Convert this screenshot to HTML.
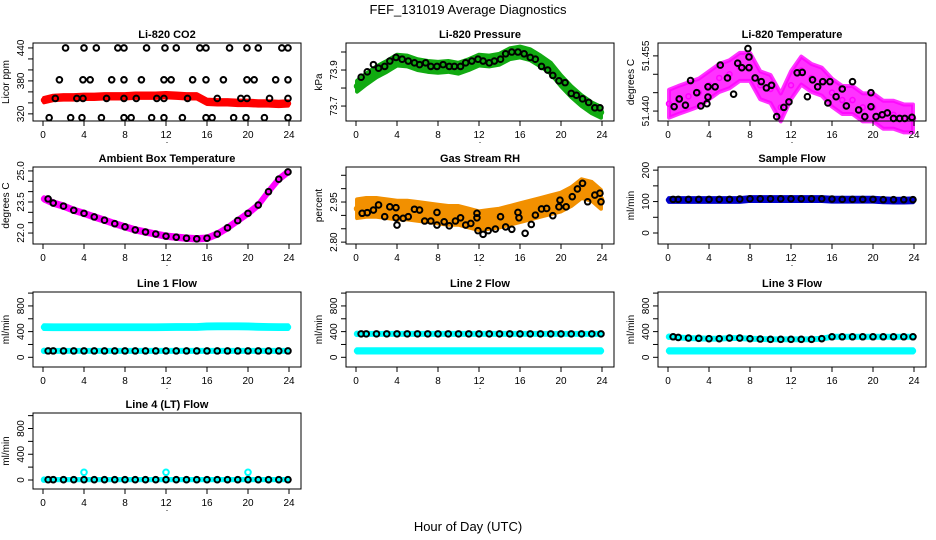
<!DOCTYPE html>
<html><head><meta charset="utf-8"><style>
body{margin:0;background:#fff}
svg{display:block;font-family:"Liberation Sans",sans-serif}
</style></head><body>
<svg id="chart" width="936" height="540" xmlns="http://www.w3.org/2000/svg">
<text x="468" y="14" text-anchor="middle" font-size="13">FEF_131019  Average Diagnostics</text>
<text x="468" y="531" text-anchor="middle" font-size="13">Hour of Day (UTC)</text>
</svg>
<script>
const xTicks=[0,4,8,12,16,20,24];
const hourly=[0,1,2,3,4,5,6,7,8,9,10,11,12,13,14,15,16,17,18,19,20,21,22,23,24];
// CO2
const co2Red=[345,349,350,350,351,351,352,352,352,353,353,353,354,353,352,352,342,341,341,340,340,339,339,338,339];
const co2BlackHours=[2.2,4,5.2,7.3,7.9,10.1,11.9,13,15.3,15.9,18.2,19.9,21,23.3,23.9,1.6,3.9,4.6,6.7,7.9,9.6,11.8,12.5,14.6,15.9,17.6,19.9,20.6,22.7,23.9,1.2,3.3,3.9,6.2,7.9,9.1,11.1,11.8,14.1,17,19.3,19.9,22.1,23.9,0.6,2.7,3.8,5.7,7.9,8.6,10.6,11.8,13.6,15.9,16.5,18.6,19.8,21.6,23.9];
const co2BlackVals=[440,440,440,440,440,440,440,440,440,440,440,440,440,440,440,382,382,382,382,382,382,382,382,382,382,382,382,382,382,382,348,348,348,348,348,348,348,348,348,348,348,348,348,348,313,313,313,313,313,313,313,313,313,313,313,313,313,313,313];
// Pressure
const presGreen=[73.81,73.85,73.89,73.92,73.955,73.95,73.93,73.92,73.915,73.92,73.91,73.93,73.955,73.95,73.96,73.99,74.0,73.985,73.95,73.91,73.84,73.78,73.73,73.69,73.665];
const presBlackHours=[0.5,1.1,1.7,2.2,2.8,3.3,3.9,4.5,5.1,5.7,6.2,6.8,7.3,7.9,8.5,9.1,9.6,10.2,10.7,11.3,11.9,12.4,13,13.5,14.1,14.6,15.2,15.8,16.4,17,17.5,18.1,18.7,19.2,19.8,20.4,21,21.5,22.1,22.7,23.3,23.8];
const presBlackVals=[73.86,73.89,73.93,73.91,73.92,73.95,73.97,73.96,73.95,73.94,73.93,73.94,73.92,73.92,73.93,73.92,73.92,73.92,73.94,73.95,73.96,73.95,73.94,73.95,73.96,73.99,74.0,74.0,73.99,73.97,73.96,73.92,73.9,73.87,73.84,73.83,73.77,73.76,73.74,73.72,73.69,73.69];
// Temperature
const tempMagenta=[51.442,51.443,51.444,51.445,51.447,51.449,51.450,51.452,51.452,51.447,51.446,51.441,51.447,51.451,51.449,51.448,51.445,51.443,51.443,51.441,51.441,51.439,51.439,51.438,51.438];
const tempBlackHours=[0.6,1.1,1.7,2.2,2.8,3.2,3.8,3.9,3.9,4.6,5.1,5.8,6.4,6.8,7.2,7.8,7.9,7.9,8.5,9.1,9.6,10.1,10.6,11.3,11.8,12.6,13.1,13.6,14.1,14.6,15.1,15.8,15.6,16.4,17,17.4,18,18.6,19.2,19.8,19.8,20.3,20.9,21.4,22,22.6,23.1,23.8];
const tempBlackVals=[51.4412,51.4433,51.4416,51.4483,51.445,51.4414,51.442,51.4438,51.4466,51.4466,51.4525,51.449,51.4446,51.453,51.4518,51.457,51.4547,51.4518,51.449,51.448,51.4463,51.447,51.4385,51.441,51.4425,51.4504,51.4505,51.4439,51.4485,51.4466,51.448,51.448,51.4422,51.4439,51.446,51.4414,51.448,51.4403,51.4385,51.445,51.4412,51.4385,51.439,51.4395,51.438,51.438,51.438,51.4383];
// Ambient
const ambMagenta=[23.65,23.45,23.3,23.1,22.95,22.78,22.62,22.45,22.3,22.15,22.05,21.95,21.85,21.8,21.75,21.72,21.75,21.95,22.25,22.6,22.95,23.35,24.0,24.6,24.95];
// RH
const rhOrange=[2.925,2.93,2.93,2.925,2.92,2.92,2.915,2.91,2.905,2.9,2.9,2.89,2.88,2.885,2.89,2.9,2.91,2.92,2.93,2.94,2.95,2.97,3.0,2.99,2.96];
const rhBlackHours=[0.6,1.1,1.7,2.2,2.8,3.3,3.9,3.9,4.0,4.6,5.1,5.7,6.2,6.7,7.3,7.9,7.9,8.6,9.1,9.7,10.2,10.7,11.2,11.8,11.8,11.9,12.4,12.9,13.6,14.1,14.6,15.2,15.8,15.9,16.5,17.1,17.5,18.1,18.6,19.2,19.8,19.9,20.5,21.1,21.6,22.1,22.6,23.3,23.8,23.9];
const rhBlackVals=[2.908,2.910,2.920,2.939,2.895,2.932,2.929,2.891,2.864,2.889,2.895,2.923,2.920,2.879,2.879,2.911,2.864,2.876,2.861,2.879,2.891,2.864,2.870,2.908,2.891,2.843,2.829,2.843,2.849,2.895,2.857,2.848,2.911,2.891,2.833,2.866,2.901,2.924,2.926,2.899,2.932,2.957,2.932,2.970,2.999,3.020,2.951,2.976,2.983,2.951];
// Flows
const sampleBlue=[105,105,105,105,105,105,105,105,108,108,108,108,108,108,108,108,106,106,106,106,106,104,103,103,104];
const sampleBlack=[107,107,107,107,107,107,107,108,109,109,109,109,109,109,109,109,108,107,107,107,107,106,106,106,106];
const line1Cyan=[470,468,468,468,468,468,468,468,468,468,468,468,470,472,472,472,480,482,482,482,480,475,472,470,470];
const line1Black=[100,100,100,100,100,100,100,100,100,100,100,100,100,100,100,100,100,100,100,100,100,100,100,100,100];
const line2CyanLow=[100,100,100,100,100,100,100,100,100,100,100,100,100,100,100,100,100,100,100,100,100,100,100,100,100];
const line2Black=[365,365,365,365,365,365,365,365,365,365,365,365,365,365,365,365,365,365,365,365,365,365,365,365,365];
const line3CyanLow=[100,100,100,100,100,100,100,100,100,100,100,100,100,100,100,100,100,100,100,100,100,100,100,100,100];
const line3Black=[320,310,300,295,290,290,300,300,290,285,280,280,280,280,280,290,320,320,320,320,320,320,320,320,320];
const line4Black=[5,5,5,5,5,5,5,5,5,5,5,5,5,5,5,5,5,5,5,5,5,5,5,5,5];
const line4OutHours=[4,12,20];
const line4OutVals=[120,120,120];

const svg=document.getElementById('chart');
const NS='http://www.w3.org/2000/svg';
function mk(tag,attrs,parent){const e=document.createElementNS(NS,tag);for(const k in attrs)e.setAttribute(k,attrs[k]);(parent||svg).appendChild(e);return e;}

const colX=[33,346,658], rowY=[[43,121],[167,244],[292,367],[413,489]];

function panel(o){
  const x0=colX[o.col],x1=x0+268,[y0,y1]=rowY[o.row];
  const g=mk('g',{});
  
  
  const sx=h=>x0+10+h*(x1-12-x0-10)/24;
  const sy=v=>y1-(v-o.ymin)*(y1-y0)/(o.ymax-o.ymin);
  const t=mk('text',{x:(x0+x1)/2,y:y0-5,'text-anchor':'middle','font-size':'11','font-weight':'bold'},g);
  t.textContent=o.title;
  
  
  const plot=mk('g',{},g);
  
  
  (o.bands||[]).forEach(b=>{
    let up=b.vals.map((v,i)=>sx(b.hours[i])+','+sy(v+b.w)).join(' ');
    let dn=b.vals.map((v,i)=>sx(b.hours[i])+','+sy(v-b.w)).reverse().join(' ');
    const p=mk('polygon',{points:up+' '+dn,fill:b.color,stroke:b.color,'stroke-width':'4','stroke-linejoin':'round','fill-opacity':b.op||1,'stroke-opacity':b.op||1},plot);
    
    
    b.vals.forEach((v,i)=>{
      const c=mk('circle',{cx:sx(b.hours[i]),cy:sy(v),r:2.5,fill:'none',stroke:b.color,'stroke-width':'1.5'},plot);
      
      
    });
  });
  (o.points||[]).forEach(s=>{
    s.vals.forEach((v,i)=>{
      const c=mk('circle',{cx:sx(s.hours[i]),cy:sy(v),r:2.8,fill:'none',stroke:s.color,'stroke-width':'2'},plot);
      
      
    });
  });
  const box=mk('rect',{x:x0,y:y0,width:x1-x0,height:y1-y0,fill:'none',stroke:'#000','stroke-width':'1'},g);
  
  
  const xa=mk('g',{},g);
  
  
  xTicks.forEach(h=>{
    mk('line',{x1:sx(h),x2:sx(h),y1:y1,y2:y1+5,stroke:'#000'},xa);
    const l=mk('text',{x:sx(h),y:y1+17,'text-anchor':'middle','font-size':'10'},xa);
    l.textContent=h;
    
    
  });
  const dot=mk('text',{x:(x0+x1)/2,y:y1+22,'text-anchor':'middle','font-size':'9'},xa);
  dot.textContent='.';
  const ya=mk('g',{},g);
  
  
  o.yticks.forEach(v=>{
    if(sy(v)<y0-1||sy(v)>y1+1)return;
    mk('line',{x1:x0,x2:x0-5,y1:sy(v),y2:sy(v),stroke:'#000'},ya);
  });
  o.ylabels.forEach(v=>{
    const l=mk('text',{x:0,y:0,'text-anchor':'middle','font-size':'10',transform:`translate(${x0-9},${sy(v)}) rotate(-90)`},ya);
    l.textContent=o.fmt?o.fmt(v):v;
    
    
  });
  const yt=mk('text',{x:0,y:0,'text-anchor':'middle','font-size':'10',transform:`translate(${x0-24},${(y0+y1)/2}) rotate(-90)`},ya);
  yt.textContent=o.ytitle;
  
  
}
const hh=hourly.map(h=>Math.max(0.1,Math.min(23.9,h)));
const halfH=hourly.map(h=>Math.max(0.5,Math.min(23.9,h)));
const flowTicks=[0,200,400,600,800,1000],flowLabels=[0,400,800];

panel({name:'co2',title:'Li-820 CO2',col:0,row:0,ymin:307,ymax:449,yticks:[320,340,360,380,400,420,440],ylabels:[320,380,440],ytitle:'Licor ppm',
  bands:[{hours:hh,vals:co2Red,w:4,color:'#ff0000'}],points:[{hours:co2BlackHours,vals:co2BlackVals,color:'#000'}]});
panel({name:'pressure',title:'Li-820 Pressure',col:1,row:0,ymin:73.617,ymax:74.05,yticks:[73.7,73.8,73.9,74.0],ylabels:[73.7,73.9],ytitle:'kPa',fmt:v=>v.toFixed(1),
  bands:[{hours:hh,vals:presGreen,w:0.03,color:'#11aa11'}],points:[{hours:presBlackHours,vals:presBlackVals,color:'#000'}]});
panel({name:'li820-temp',title:'Li-820 Temperature',col:2,row:0,ymin:51.4373,ymax:51.4585,yticks:[51.440,51.445,51.450,51.455],ylabels:[51.440,51.455],ytitle:'degrees C',fmt:v=>v.toFixed(3),
  bands:[{hours:hh,vals:tempMagenta,w:0.0038,color:'#ff00ff',op:0.8}],points:[{hours:tempBlackHours,vals:tempBlackVals,color:'#000'}]});
panel({name:'ambient-temp',title:'Ambient Box Temperature',col:0,row:1,ymin:21.47,ymax:25.19,yticks:[22,22.5,23,23.5,24,24.5,25],ylabels:[22,23.5,25],ytitle:'degrees C',fmt:v=>v.toFixed(1),
  bands:[{hours:hh,vals:ambMagenta,w:0.08,color:'#ff00ff'}],points:[{hours:halfH,vals:ambMagenta,color:'#000'}]});
panel({name:'gas-rh',title:'Gas Stream RH',col:1,row:1,ymin:2.793,ymax:3.081,yticks:[2.80,2.85,2.90,2.95,3.00,3.05],ylabels:[2.80,2.95],ytitle:'percent',fmt:v=>v.toFixed(2),
  bands:[{hours:hh,vals:rhOrange,w:0.035,color:'#f29000'}],points:[{hours:rhBlackHours,vals:rhBlackVals,color:'#000'}]});
panel({name:'sample-flow',title:'Sample Flow',col:2,row:1,ymin:-35,ymax:210,yticks:[0,50,100,150,200],ylabels:[0,100,200],ytitle:'ml/min',
  bands:[{hours:hh,vals:sampleBlue,w:6,color:'#0000cc'}],points:[{hours:halfH,vals:sampleBlack,color:'#000'}]});
panel({name:'line1-flow',title:'Line 1 Flow',col:0,row:2,ymin:-151,ymax:1017,yticks:flowTicks,ylabels:flowLabels,ytitle:'ml/min',
  bands:[{hours:hh,vals:line1Cyan,w:30,color:'#00ffff'},{hours:hh,vals:line1Black,w:15,color:'#00ffff'}],points:[{hours:halfH,vals:line1Black,color:'#000'}]});
panel({name:'line2-flow',title:'Line 2 Flow',col:1,row:2,ymin:-151,ymax:1017,yticks:flowTicks,ylabels:flowLabels,ytitle:'ml/min',
  bands:[{hours:hh,vals:line2CyanLow,w:25,color:'#00ffff'},{hours:hh,vals:line2Black,w:15,color:'#00ffff'}],points:[{hours:halfH,vals:line2Black,color:'#000'}]});
panel({name:'line3-flow',title:'Line 3 Flow',col:2,row:2,ymin:-151,ymax:1017,yticks:flowTicks,ylabels:flowLabels,ytitle:'ml/min',
  bands:[{hours:hh,vals:line3CyanLow,w:25,color:'#00ffff'},{hours:hh,vals:line3Black,w:15,color:'#00ffff'}],points:[{hours:halfH,vals:line3Black,color:'#000'}]});
panel({name:'line4-flow',title:'Line 4 (LT) Flow',col:0,row:3,ymin:-140,ymax:1041,yticks:flowTicks,ylabels:flowLabels,ytitle:'ml/min',
  bands:[{hours:hh,vals:line4Black,w:10,color:'#00ffff'}],points:[{hours:line4OutHours,vals:line4OutVals,color:'#00ffff'},{hours:halfH,vals:line4Black,color:'#000'}]});
</script>
</body></html>
